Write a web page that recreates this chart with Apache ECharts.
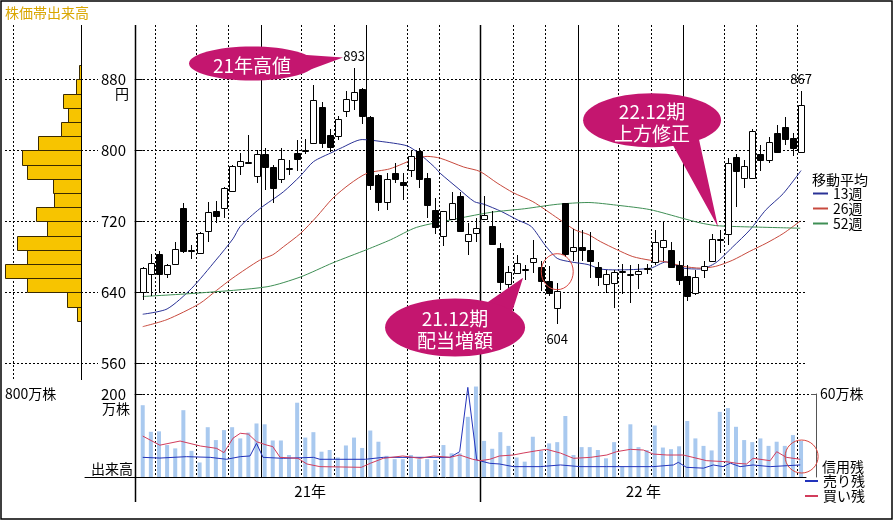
<!DOCTYPE html>
<html>
<head>
<meta charset="utf-8">
<script src="https://cdn.jsdelivr.net/npm/echarts@6.0.0/dist/echarts.min.js"></script>
<style>
html, body { margin: 0; padding: 0; background: #fff; }
#chart { width: 895px; height: 522px; }
</style>
</head>
<body>
<div id="chart"></div>
<script>
// 週足 [始値, 終値, 安値, 高値]
const candles = [
  [640,667,631,668],[661,673,635,683],[683,661,639,686],[661,671,656,672],[672,689,671,697],
  [735,687,684,740],[687,688,677,693],[685,707,684,708],[709,730,697,742],[731,725,718,743],
  [735,757,723,758],[754,782,753,783],[782,788,772,797],[787,787,786,817],[771,796,763,800],
  [796,781,755,802],[781,757,741,783],[767,790,763,803],[779,780,772,789],[797,790,776,811],
  [800,800,796,813],[809,857,808,873],[849,808,803,854],[817,803,798,824],[816,835,811,839],
  [844,858,838,867],[857,866,845,893],[869,839,830,870],[838,761,755,839],[772,742,731,773],
  [742,768,733,774],[774,767,763,786],[764,761,744,774],[778,794,770,800],[799,767,757,802],
  [769,738,723,774],[733,714,705,746],[703,731,692,731],[723,741,723,753],[748,708,708,753],
  [698,706,682,718],[706,712,697,723],[722,727,721,748],[715,695,693,731],[690,652,642,695],
  [650,663,639,669],[662,673,660,682],[666,666,654,671],[674,678,661,699],[668,652,641,675],
  [653,639,636,669],[622,641,604,650],[740,683,680,741],[686,691,675,711],[691,688,675,710],
  [688,676,656,708],[668,657,647,674],[649,660,639,665],[651,663,622,665],[664,664,638,672],
  [660,660,628,670],[661,664,643,672],[666,667,660,672],[675,697,670,710],[691,699,675,719],
  [688,669,668,697],[670,653,648,675],[658,635,630,671],[639,657,637,665],[665,669,656,675],
  [675,700,674,705],[700,700,684,710],[705,785,693,791],[792,776,736,796],[769,782,757,789],
  [769,822,768,824],[796,789,777,806],[789,809,785,815],[819,798,797,828],[826,813,806,837],
  [814,803,793,819],[798,851,797,867]
];

// 出来高（万株）
const volumes = [
  173,109,110,77,69,161,63,35,120,89,113,120,93,107,129,127,88,88,53,179,
  95,108,61,65,47,76,95,70,112,85,51,43,43,53,43,43,41,77,57,57,
  145,218,87,68,108,75,47,37,97,63,81,84,147,53,72,72,65,45,84,25,
  127,72,65,124,71,67,74,135,93,75,64,157,166,121,89,84,93,75,85,75,
  101,87
];

// 移動平均 [週位置, 円]
const ma13 = [[0,615],[3,621],[6,644],[9,676],[11.1,700],[12,714],[14.4,734],[17.3,753],[19.4,771],[21,787],[23.4,798],
  [24.3,802],[27,812],[29.2,810],[32.5,805],[33.9,797],[35.9,781],[36.6,774],[38.8,757],[40.8,742],
  [42,739],[44.1,731],[46.2,721],[47.8,714],[49.5,693],[51,678],[52.7,674],[54.8,671],[56.3,666],
  [58.3,665],[62.5,667],[64.4,674],[66.5,667],[68.6,666],[70.5,673],[72.6,691],[74.7,710],[76.7,733],
  [78.8,751],[81,777]];
const ma26 = [[0,601],[3,609],[7,627],[9.1,642],[11.1,656],[14.4,676],[16,682],[17.3,691],[19.4,706],[21.4,725],
  [23.4,746],[25.5,762],[27.6,774],[30.4,779],[33.7,791],[35,793],[36.6,791],[39.5,781],[41.5,776],
  [43.6,763],[45.6,752],[48,742],[51.1,723],[53.2,710],[54.8,705],[56.3,697],[58.3,688],[60.3,680],
  [62.4,676],[64.4,674],[66.5,669],[68.6,667],[70.5,669],[72.6,676],[74.7,686],[76.7,695],[78.8,706],
  [80.9,720]];
const ma52 = [[0,635],[7,639],[15.3,646],[19.4,657],[23.4,673],[27.6,688],[30.5,699],[33.7,713],[38.8,723],
  [42.9,730],[47,734],[51,739],[54.8,741],[58.3,738],[62.4,733],[66.5,723],[68.6,718],[70.5,715],
  [72.6,714],[76.7,713],[80.9,712]];

// 信用残（万株） [週位置, 株数]
const sellRemain = [[0,14.2],[2.1,13.7],[5.4,14.7],[8.3,14.2],[10.3,12.8],[12,14.7],[13.2,15.2],[14,24.3],
  [14.8,14.2],[17.3,13.5],[21,14.2],[21.8,12.8],[27.4,12.8],[29.6,14.2],[37.8,14.2],[39,18.3],[40,64.8],
  [41.1,12.3],[42.7,9.9],[43.9,9.4],[45.6,7.5],[48.9,7.5],[51.4,8.7],[53.8,7.5],[57.1,7.5],[62.8,7.5],
  [65.3,8.7],[65.9,10.6],[66.9,7],[69,6.4],[70.2,8.7],[71.4,7.5],[72.3,10],[73.5,7.5],[75.1,8.7],
  [77.2,7.5],[80.9,8.7]];
const buyRemain = [[0,29.6],[2.1,23],[4.6,26],[7.1,22.4],[9.1,20.7],[10,17.6],[11.1,28],[12,31.6],[13,31],
  [14,25.5],[15.3,23],[16,22],[16.9,14.2],[19.1,13.5],[20.2,9.4],[21.8,7.5],[26.9,7],[28,9.9],[29.6,13.5],
  [32,15.2],[34.1,13.5],[35.8,15.2],[37.8,14.2],[39,15.9],[40.6,12.8],[41.5,11.8],[42.7,12.8],[43.9,15.2],
  [45.6,15.9],[46.8,17.3],[48.5,19],[49.7,20],[51.4,17.3],[53,13.5],[55.1,14.2],[57.1,15.9],[58.3,18.3],
  [60,20],[61.6,19.5],[62.8,16.6],[64.5,15.9],[66.5,15.9],[67.7,14.2],[69.4,11.8],[71.9,11],[73.1,9.9],
  [74.3,9.4],[75.1,13.5],[77.2,11.8],[78,18.3],[79.2,14.2],[80.9,12.8]];

// 価格帯別出来高 (16円刻みの下限, 万株)
const profileLow = [608,624,640,656,672,688,704,720,736,752,768,784,800,816,832,848,864,880];
const profileVol = [51,168,632,894,639,756,396,529,318,333,639,698,502,239,149,215,59,23];
const BAND = 16;

const priceTicks = [560, 640, 720, 800, 880];
const monthLines = [1.5, 6.5, 10.5, 19.5, 23.5, 32.5, 36.5, 45.5, 49.5, 58.5, 62.5, 71.5, 75.5, 80.5];
const quarterLines = [14.5, 27.5, 53.5, 66.5];
const yearLines = [-0.95, 41.5];
const yearLabelPos = [20.6, 61.6];
const yearLabelText = ['21年', '22 年'];
const peakIdx = [26, 81, 51];
const peakVal = [893, 867, 604];

const FONT = '"Noto Sans CJK JP", "Noto Sans", sans-serif';
const XMIN = yearLines[0], XMAX = 81.61;
const UNIT = 671 / (XMAX - XMIN);
const MAG = '#c4166f';
const C13 = '#2a3296', C26 = '#c84a3e', C52 = '#3f8f55';
const CSELL = '#2233bb', CBUY = '#d23d5c';

const crisp = v => Math.round(v) + 0.5;

function vLines(values, xi, yi, yRef, style, z) {
  return {
    type: 'custom', xAxisIndex: xi, yAxisIndex: yi, z: z || 1, silent: true,
    data: values.map(v => [v, yRef]),
    renderItem(params, api) {
      const cs = params.coordSys;
      const x = crisp(api.coord([api.value(0), api.value(1)])[0]);
      return { type: 'line', shape: { x1: x, y1: cs.y, x2: x, y2: cs.y + cs.height },
        style: Object.assign({ stroke: '#000', lineWidth: 1 }, style) };
    }
  };
}
function hLines(values, xi, yi, xRef, style, extra) {
  return {
    type: 'custom', xAxisIndex: xi, yAxisIndex: yi, z: 1, silent: true,
    data: values.map(v => [xRef, v]),
    renderItem(params, api) {
      const cs = params.coordSys;
      const y = crisp(api.coord([api.value(0), api.value(1)])[1]);
      return { type: 'line', shape: { x1: cs.x, y1: y, x2: cs.x + cs.width + (extra || 0), y2: y },
        style: Object.assign({ stroke: '#000', lineWidth: 1 }, style) };
    }
  };
}
const DOT = { lineDash: [2, 2] };

const notes = [
  { text: '21年高値', at: [13.45, 897.8], tip: [24.65, 904.5], rx: 63, ry: 17, tail: [-30, 20] },
  { text: '21.12期\n配当増額', at: [38.43, 600], tip: [46.8, 656.2], rx: 70, ry: 29, tail: [-62, -35] },
  { text: '22.12期\n上方修正', at: [62.67, 833.7], tip: [70.79, 713.5], rx: 69, ry: 27, tail: [72, 47] }
];

const chart = echarts.init(document.getElementById('chart'));
chart.setOption({
  animation: false,
  backgroundColor: '#fff',
  grid: [
    { left: 5, top: 25, width: 93, height: 355 },      // 価格帯出来高
    { left: 135, top: 25, width: 671, height: 452 },   // 背景の縦線
    { left: 135, top: 25, width: 671, height: 338 },   // 株価
    { left: 135, top: 394, width: 671, height: 83 },   // 出来高
    { left: 85, top: 477, width: 721, height: 25 }     // 年ラベル
  ],
  xAxis: [
    { gridIndex: 0, type: 'value', inverse: true, min: -200, max: 894.1, show: false },
    { gridIndex: 1, type: 'value', min: XMIN, max: XMAX, show: false },
    { gridIndex: 2, type: 'value', min: XMIN, max: XMAX, show: false },
    { gridIndex: 3, type: 'value', min: XMIN, max: XMAX, show: false },
    { gridIndex: 4, type: 'value', min: XMIN - 50 / UNIT, max: XMAX, position: 'top',
      axisLine: { show: true, onZero: false, lineStyle: { color: '#000', width: 1 } },
      axisTick: { show: false }, axisLabel: { show: false }, splitLine: { show: false } }
  ],
  yAxis: [
    { gridIndex: 0, type: 'value', min: 541.2, max: 941.2, show: false },
    { gridIndex: 1, type: 'value', min: 0, max: 1, show: false },
    { gridIndex: 2, type: 'value', min: 560, max: 941.2, interval: 80,
      axisLine: { show: false },
      axisTick: { show: true, length: 8, customValues: priceTicks, lineStyle: { color: '#000' } },
      axisLabel: { customValues: priceTicks, margin: 9, fontSize: 15, color: '#000', fontFamily: FONT },
      splitLine: { show: false } },
    { gridIndex: 3, type: 'value', min: 0, max: 200, interval: 200,
      axisLine: { show: false },
      axisTick: { show: true, length: 8, customValues: [200], lineStyle: { color: '#000' } },
      axisLabel: { customValues: [200], margin: 9, fontSize: 15, color: '#000', fontFamily: FONT },
      splitLine: { show: false } },
    { gridIndex: 3, type: 'value', position: 'right', offset: 10, min: 0, max: 60, interval: 60,
      axisLine: { show: true, lineStyle: { color: '#555' } },
      axisTick: { show: true, inside: true, length: 5, customValues: [60], lineStyle: { color: '#555' } },
      axisLabel: { customValues: [60], formatter: v => v + '万株', margin: 4, fontSize: 14, color: '#000', fontFamily: FONT },
      splitLine: { show: false } },
    { gridIndex: 4, type: 'value', min: 0, max: 1, show: false }
  ],
  legend: [
    { data: ['13週', '26週', '52週'], orient: 'vertical', left: 813, top: 186, padding: 0, itemGap: 0,
      icon: 'rect', itemWidth: 15, itemHeight: 2, selectedMode: false,
      textStyle: { fontSize: 14, lineHeight: 15, color: '#000', fontFamily: FONT } },
    { data: ['売り残', '買い残'], orient: 'vertical', left: 805, top: 473.5, padding: 0, itemGap: 0,
      icon: 'rect', itemWidth: 13, itemHeight: 2, selectedMode: false,
      textStyle: { fontSize: 14, lineHeight: 15, color: '#000', fontFamily: FONT } }
  ],
  graphic: [
    { type: 'rect', shape: { x: 1, y: 1, width: 891, height: 518 }, style: { fill: 'none', stroke: '#000', lineWidth: 1.5 }, silent: true },
    { type: 'text', x: 5, y: 13, style: { text: '株価帯出来高', fill: '#d9a600', font: '14px ' + FONT, align: 'left', verticalAlign: 'middle' } },
    { type: 'text', x: 5, y: 394, style: { text: '800万株', fill: '#000', font: '14px ' + FONT, align: 'left', verticalAlign: 'middle' } },
    { type: 'text', x: 122, y: 94, style: { text: '円', fill: '#000', font: '14px ' + FONT, align: 'center', verticalAlign: 'middle' } },
    { type: 'text', x: 116, y: 409, style: { text: '万株', fill: '#000', font: '14px ' + FONT, align: 'center', verticalAlign: 'middle' } },
    { type: 'text', x: 112, y: 469, style: { text: '出来高', fill: '#000', font: '14px ' + FONT, align: 'center', verticalAlign: 'middle' } },
    { type: 'text', x: 812, y: 180, style: { text: '移動平均', fill: '#000', font: '14px ' + FONT, align: 'left', verticalAlign: 'middle' } },
    { type: 'text', x: 822, y: 467, style: { text: '信用残', fill: '#000', font: '14px ' + FONT, align: 'left', verticalAlign: 'middle' } }
  ],
  series: [
    // 価格帯出来高
    hLines(priceTicks, 0, 0, 0, DOT),
    vLines([800], 0, 0, 700, DOT),
    vLines([0], 0, 0, 700, {}, 3),
    {
      type: 'custom', xAxisIndex: 0, yAxisIndex: 0, z: 2, silent: true,
      data: profileLow.map((lo, k) => [profileVol[k], lo]),
      renderItem(params, api) {
        const vol = api.value(0), lo = api.value(1);
        const a = api.coord([0, lo + BAND]), b = api.coord([vol, lo]);
        const x0 = crisp(Math.min(a[0], b[0])), x1 = crisp(Math.max(a[0], b[0]));
        const y0 = crisp(a[1]), y1 = crisp(b[1]);
        return { type: 'rect', shape: { x: x0, y: y0, width: x1 - x0, height: y1 - y0 },
          style: { fill: '#f7c400', stroke: '#3a2a00', lineWidth: 1 } };
      }
    },
    // 月・四半期・年の縦線
    vLines(monthLines, 1, 1, 0.5, DOT),
    vLines(quarterLines, 1, 1, 0.5, {}),
    vLines(yearLines, 1, 1, 0.5, { lineWidth: 1.5 }),
    vLines(yearLines, 4, 5, 0.5, { lineWidth: 1.5 }),
    {
      type: 'custom', xAxisIndex: 4, yAxisIndex: 5, silent: true,
      data: yearLabelPos.map(x => [x, 0.5]),
      renderItem(params, api) {
        const p = api.coord([api.value(0), api.value(1)]);
        return { type: 'text', x: p[0], y: params.coordSys.y + 14,
          style: { text: yearLabelText[params.dataIndex], fill: '#000', font: '15px ' + FONT, align: 'center', verticalAlign: 'middle' } };
      }
    },
    // 株価
    hLines(priceTicks, 2, 2, 0, DOT),
    { type: 'line', name: '13週', xAxisIndex: 2, yAxisIndex: 2, data: ma13, symbol: 'none', smooth: 0.25, z: 2,
      lineStyle: { width: 1, color: C13 }, itemStyle: { color: C13 } },
    { type: 'line', name: '26週', xAxisIndex: 2, yAxisIndex: 2, data: ma26, symbol: 'none', smooth: 0.25, z: 2,
      lineStyle: { width: 1, color: C26 }, itemStyle: { color: C26 } },
    { type: 'line', name: '52週', xAxisIndex: 2, yAxisIndex: 2, data: ma52, symbol: 'none', smooth: 0.25, z: 2,
      lineStyle: { width: 1, color: C52 }, itemStyle: { color: C52 } },
    {
      type: 'custom', name: '株価', xAxisIndex: 2, yAxisIndex: 2, z: 3,
      data: candles.map((d, i) => [i, d[0], d[1], d[2], d[3]]),
      encode: { x: 0, y: [1, 2, 3, 4] },
      renderItem(params, api) {
        const i = api.value(0);
        const o = api.coord([i, api.value(1)]), c = api.coord([i, api.value(2)]);
        const lo = api.coord([i, api.value(3)]), hi = api.coord([i, api.value(4)]);
        const x = crisp(o[0]);
        const up = api.value(2) >= api.value(1);
        const top = crisp(Math.min(o[1], c[1]));
        const h = Math.max(Math.round(Math.abs(o[1] - c[1])), 1);
        return { type: 'group', children: [
          { type: 'line', shape: { x1: x, y1: Math.round(hi[1]), x2: x, y2: Math.round(lo[1]) }, style: { stroke: '#000', lineWidth: 1 } },
          { type: 'rect', shape: { x: x - 3, y: top, width: 6, height: h }, style: { fill: up ? '#fff' : '#000', stroke: '#000', lineWidth: 1 } }
        ] };
      }
    },
    {
      type: 'custom', xAxisIndex: 2, yAxisIndex: 2, z: 4, silent: true,
      data: peakIdx.map((k, j) => [k, peakVal[j]]),
      renderItem(params, api) {
        const p = api.coord([api.value(0), api.value(1)]);
        const isHigh = candles[api.value(0)][3] === api.value(1);
        return { type: 'text', x: p[0], y: p[1] + (isHigh ? -12 : 15),
          style: { text: String(api.value(1)), fill: '#000', font: '13px ' + FONT, align: 'center', verticalAlign: 'middle' } };
      }
    },
    {
      type: 'custom', xAxisIndex: 2, yAxisIndex: 2, z: 5, silent: true,
      data: [[51, 663]],
      renderItem(params, api) {
        const p = api.coord([api.value(0), api.value(1)]);
        return { type: 'ellipse', shape: { cx: p[0], cy: p[1], rx: 16, ry: 18 }, style: { fill: 'none', stroke: '#d9453f', lineWidth: 1 } };
      }
    },
    {
      type: 'custom', xAxisIndex: 2, yAxisIndex: 2, z: 6, silent: true,
      data: notes.map(n => n.at),
      renderItem(params, api) {
        const n = notes[params.dataIndex];
        const c = api.coord(n.at), t = api.coord(n.tip);
        const pts = n.tail.map(a => [c[0] + n.rx * Math.cos(a * Math.PI / 180), c[1] + n.ry * Math.sin(a * Math.PI / 180)]);
        return { type: 'group', children: [
          { type: 'polygon', shape: { points: [pts[0], t, pts[1], c] }, style: { fill: MAG } },
          { type: 'ellipse', shape: { cx: c[0], cy: c[1], rx: n.rx, ry: n.ry }, style: { fill: MAG } },
          { type: 'text', x: c[0], y: c[1] + 2, style: { text: n.text, fill: '#fff', font: '19px ' + FONT, lineHeight: 22, align: 'center', verticalAlign: 'middle' } }
        ] };
      }
    },
    // 出来高・信用残
    hLines([200], 3, 3, 0, DOT, 4),
    { type: 'bar', name: '出来高', xAxisIndex: 3, yAxisIndex: 3, data: volumes.map((v, i) => [i, v]),
      barWidth: 4, clip: false, itemStyle: { color: '#a9c9ef' }, z: 2 },
    { type: 'line', name: '売り残', xAxisIndex: 3, yAxisIndex: 4, data: sellRemain, symbol: 'none', clip: false, z: 3,
      lineStyle: { width: 1, color: CSELL }, itemStyle: { color: CSELL } },
    { type: 'line', name: '買い残', xAxisIndex: 3, yAxisIndex: 4, data: buyRemain, symbol: 'none', clip: false, z: 3,
      lineStyle: { width: 1, color: CBUY }, itemStyle: { color: CBUY } },
    {
      type: 'custom', xAxisIndex: 3, yAxisIndex: 4, z: 5, silent: true,
      data: [[81.07, 14.8]],
      renderItem(params, api) {
        const p = api.coord([api.value(0), api.value(1)]);
        return { type: 'circle', shape: { cx: p[0], cy: p[1], r: 16.5 }, style: { fill: 'none', stroke: '#d9453f', lineWidth: 1 } };
      }
    }
  ]
});
</script>
</body>
</html>
